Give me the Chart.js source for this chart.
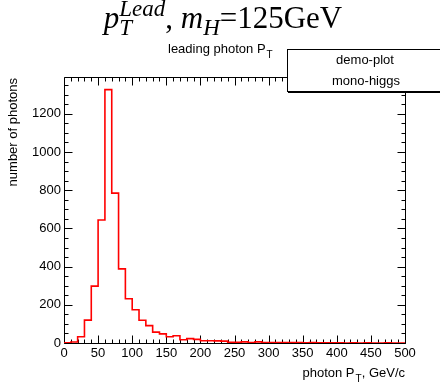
<!DOCTYPE html>
<html>
<head>
<meta charset="utf-8">
<script src="https://cdn.jsdelivr.net/npm/chart.js@4.4.1/dist/chart.umd.min.js"></script>
<style>
	html, body { margin: 0; padding: 0; background: #fff; }
	#wrap { width: 440px; height: 385px; }
</style>
</head>
<body>
<div id="wrap"><canvas id="histo" width="440" height="385"></canvas></div>
<script>
	// histogram bins, 10 GeV wide
	var binEdges = [0, 10, 20, 30, 40, 50, 60, 70, 80, 90, 100, 110, 120, 130, 140, 150, 160, 170, 180, 190, 200,
		210, 220, 230, 240, 250, 260, 270, 280, 290, 300, 310, 320, 330, 340, 350, 360, 370, 380, 390, 400,
		410, 420, 430, 440, 450, 460, 470, 480, 490, 500];
	var photonCounts = [1, 5, 33, 120, 298, 644, 1327, 785, 388, 232,
		174, 119, 91, 57, 48, 33, 38, 17, 23, 19,
		12, 12, 11, 10, 4, 4, 6, 3, 6, 3,
		3, 2, 3, 2, 2, 1, 2, 1, 1, 1,
		1, 0, 1, 0, 1, 0, 0, 1, 0, 0];
	var xTickLabels = [0, 50, 100, 150, 200, 250, 300, 350, 400, 450, 500];
	var yTickLabels = [0, 200, 400, 600, 800, 1000, 1200];
	var yMax = 1393;

	var sans = "'Liberation Sans', Arial, sans-serif";
	var serif = "'Liberation Serif', 'Times New Roman', serif";

	// one point per bin edge; chart.js 'after' stepping draws the segment
	// ending at edge i+1 at the height of that point, i.e. bin i
	function buildPoints() {
		var pts = [{ x: binEdges[0], y: photonCounts[0] }];
		for (var i = 0; i < photonCounts.length; i++)
			pts.push({ x: binEdges[i + 1], y: photonCounts[i] });
		return pts;
	}

	// frame + ROOT style inner ticks, drawn under the histogram
	var framePlugin = {
		id: 'frame',
		beforeDatasetsDraw: function(chart) {
			var ctx = chart.ctx;
			var a = chart.chartArea;
			var xs = chart.scales.x, ys = chart.scales.y;
			var L = Math.round(a.left) + 0.5, R = Math.round(a.right) + 0.5;
			var T = Math.round(a.top) + 0.5, B = Math.round(a.bottom) + 0.5;
			ctx.save();
			ctx.strokeStyle = '#000';
			ctx.lineWidth = 1;
			ctx.beginPath();
			ctx.rect(L, T, R - L, B - T);
			var v, p, len;
			for (v = 0; v <= 500; v += 10) {
				p = Math.round(xs.getPixelForValue(v)) + 0.5;
				len = (v % 50 === 0) ? 8 : 4;
				ctx.moveTo(p, B); ctx.lineTo(p, B - len);
				ctx.moveTo(p, T); ctx.lineTo(p, T + len);
			}
			for (v = 0; v <= yMax; v += 50) {
				p = Math.round(ys.getPixelForValue(v)) + 0.5;
				len = (v % 200 === 0) ? 8 : 4;
				ctx.moveTo(L, p); ctx.lineTo(L + len, p);
				ctx.moveTo(R, p); ctx.lineTo(R - len, p);
			}
			ctx.stroke();
			ctx.restore();
		},
		afterDraw: function(chart) {
			var ctx = chart.ctx;
			ctx.save();
			ctx.fillStyle = '#000';
			drawTitle(ctx);
			drawSubTitle(ctx);
			drawAxisTitles(ctx, chart);
			drawStatBox(ctx);
			ctx.restore();
		}
	};

	function drawTitle(ctx) {
		var big = 31, small = 23;
		var base = 28, sup = 16, sub = 35;
		var parts = [
			{ t: 'p', f: 'italic ' + big + 'px ' + serif, y: base },
			{ stack: [
				{ t: 'Lead', f: 'italic ' + small + 'px ' + serif, y: sup },
				{ t: 'T', f: 'italic ' + small + 'px ' + serif, y: sub }
			] },
			{ t: ', ', f: big + 'px ' + serif, y: base },
			{ t: 'm', f: 'italic ' + big + 'px ' + serif, y: base },
			{ t: 'H', f: 'italic ' + small + 'px ' + serif, y: sub },
			{ t: '=125GeV', f: big + 'px ' + serif, y: base }
		];
		var total = 0;
		parts.forEach(function(pt) {
			if (pt.stack) {
				pt.w = 0;
				pt.stack.forEach(function(s) {
					ctx.font = s.f;
					pt.w = Math.max(pt.w, ctx.measureText(s.t).width);
				});
			} else {
				ctx.font = pt.f;
				pt.w = ctx.measureText(pt.t).width;
			}
			total += pt.w;
		});
		var x = 223 - total / 2;
		ctx.textAlign = 'left';
		ctx.textBaseline = 'alphabetic';
		parts.forEach(function(pt) {
			if (pt.stack) {
				pt.stack.forEach(function(s) {
					ctx.font = s.f;
					ctx.fillText(s.t, x, s.y);
				});
			} else {
				ctx.font = pt.f;
				ctx.fillText(pt.t, x, pt.y);
			}
			x += pt.w;
		});
	}

	function drawSubTitle(ctx) {
		ctx.textAlign = 'left';
		ctx.textBaseline = 'alphabetic';
		ctx.font = '13px ' + sans;
		var s = 'leading photon P';
		ctx.fillText(s, 168, 53);
		var w = ctx.measureText(s).width;
		ctx.font = '10px ' + sans;
		ctx.fillText('T', 168 + w + 1, 58);
	}

	function drawAxisTitles(ctx, chart) {
		var a = chart.chartArea;
		// y title, aligned to the top of the frame
		ctx.save();
		ctx.font = '13px ' + sans;
		ctx.translate(13, a.top + 1);
		ctx.rotate(-Math.PI / 2);
		ctx.textAlign = 'right';
		ctx.textBaseline = 'middle';
		ctx.fillText('number of photons', 0, 0);
		ctx.restore();

		// x title, aligned to the right end of the axis
		var s1 = 'photon P', s2 = 'T', s3 = ', GeV/c';
		ctx.font = '13px ' + sans;
		var w1 = ctx.measureText(s1).width, w3 = ctx.measureText(s3).width;
		ctx.font = '10px ' + sans;
		var w2 = ctx.measureText(s2).width;
		var x = a.right - (w1 + w2 + w3 + 1);
		ctx.textAlign = 'left';
		ctx.textBaseline = 'alphabetic';
		ctx.font = '13px ' + sans;
		ctx.fillText(s1, x, 377);
		ctx.font = '10px ' + sans;
		ctx.fillText(s2, x + w1 + 1, 382);
		ctx.font = '13px ' + sans;
		ctx.fillText(s3, x + w1 + w2 + 1, 377);
	}

	function drawStatBox(ctx) {
		ctx.fillStyle = '#fff';
		ctx.fillRect(287, 49, 160, 43);
		ctx.strokeStyle = '#000';
		ctx.lineWidth = 1;
		ctx.strokeRect(287.5, 49.5, 160, 42);
		ctx.fillStyle = '#000';
		ctx.fillRect(288, 91, 160, 2);
		ctx.font = '13px ' + sans;
		ctx.textAlign = 'center';
		ctx.textBaseline = 'middle';
		ctx.fillText('demo-plot', 365, 60);
		ctx.fillText('mono-higgs', 366, 81);
	}

	var chart = new Chart(document.getElementById('histo'), {
		type: 'line',
		data: {
			datasets: [{
				data: buildPoints(),
				stepped: 'after',
				borderColor: '#ff0000',
				borderWidth: 1.6,
				pointRadius: 0,
				fill: false
			}]
		},
		options: {
			responsive: false,
			animation: false,
			devicePixelRatio: 1,
			layout: { padding: { top: 77, right: 35, left: 0, bottom: 0 } },
			plugins: { legend: { display: false }, tooltip: { enabled: false } },
			scales: {
				x: {
					type: 'linear',
					min: 0,
					max: 500,
					grid: { display: false, drawTicks: false },
					border: { display: false },
					afterBuildTicks: function(s) {
						s.ticks = xTickLabels.map(function(v) { return { value: v }; });
					},
					afterFit: function(s) { s.height = 42; },
					ticks: {
						autoSkip: false,
						maxRotation: 0,
						padding: 3,
						color: '#000',
						font: { family: sans, size: 13 },
						callback: function(v) { return String(v); }
					}
				},
				y: {
					min: 0,
					max: yMax,
					grid: { display: false, drawTicks: false },
					border: { display: false },
					afterBuildTicks: function(s) {
						s.ticks = yTickLabels.map(function(v) { return { value: v }; });
					},
					afterFit: function(s) { s.width = 64; },
					ticks: {
						padding: 3,
						color: '#000',
						font: { family: sans, size: 13 },
						callback: function(v) { return String(v); }
					}
				}
			}
		},
		plugins: [framePlugin]
	});
</script>
</body>
</html>
